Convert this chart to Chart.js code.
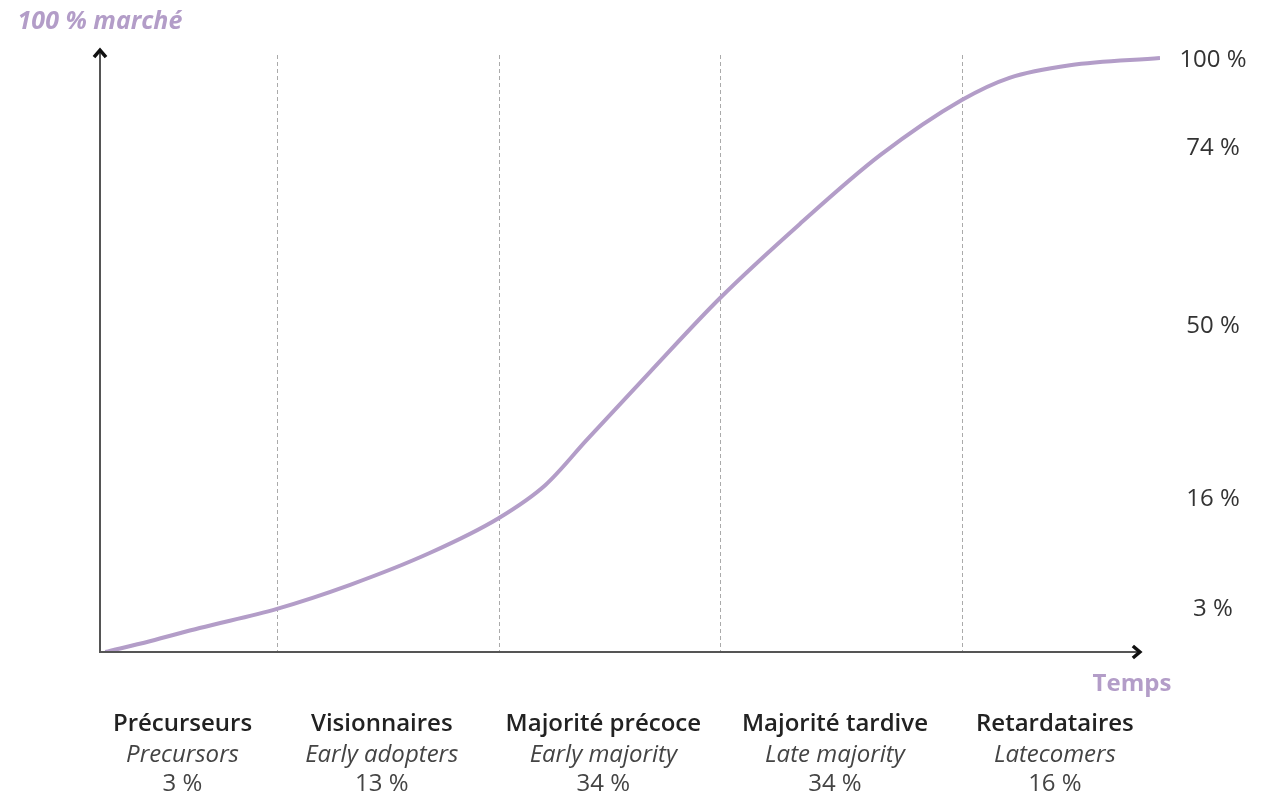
<!DOCTYPE html>
<html>
<head>
<meta charset="utf-8">
<script src="https://cdn.jsdelivr.net/npm/chart.js@4.4.1/dist/chart.umd.min.js"></script>
<style>
  html, body { margin: 0; padding: 0; background: #fff; }
  #chart { display: block; }
</style>
</head>
<body>
<canvas id="chart" width="1265" height="802"></canvas>
<script>
// curve: time (0-100) against market share (0-100)
const curveX = [0.5, 4.7, 9.4, 16.7, 23.6, 31.1, 37.6, 42.0, 45.9, 51.9, 58.5, 66.0, 73.6, 81.3, 85.8, 91.5, 100];
const curveY = [0, 1.8, 4.0, 7.2, 11.2, 16.5, 22.3, 27.8, 35.3, 46.7, 59.0, 71.3, 82.8, 92.0, 95.7, 97.8, 99.0];

// segment boundaries on the time axis
const stops = [0, 16.7, 37.6, 58.5, 81.3, 100];
const arrowEnd = 98.1;

const groupFr = ["Précurseurs", "Visionnaires", "Majorité précoce", "Majorité tardive", "Retardataires"];
const groupEn = ["Precursors", "Early adopters", "Early majority", "Late majority", "Latecomers"];
const groupShare = ["3 %", "13 %", "34 %", "34 %", "16 %"];

const sideValues = [98.7, 84, 54.3, 25.5, 7.2];
const sideLabels = ["100 %", "74 %", "50 %", "16 %", "3 %"];

const lilac = "#b39dc8";
const font = "'Open Sans', 'Noto Sans', sans-serif";

const decor = {
    id: "decor",
    beforeDatasetsDraw(chart) {
        const ctx = chart.ctx;
        const x = chart.scales.x, y = chart.scales.y;
        const y0 = y.getPixelForValue(0);
        ctx.save();
        // dashed separators
        ctx.strokeStyle = "#aaa";
        ctx.lineWidth = 1;
        ctx.setLineDash([4, 3]);
        for (let i = 1; i < stops.length - 1; i++) {
            const px = Math.round(x.getPixelForValue(stops[i])) + 0.5;
            ctx.beginPath();
            ctx.moveTo(px, y.getPixelForValue(99.5));
            ctx.lineTo(px, y0);
            ctx.stroke();
        }
        ctx.restore();
    },
    afterDatasetsDraw(chart) {
        const ctx = chart.ctx;
        const x = chart.scales.x, y = chart.scales.y;
        const x0 = x.getPixelForValue(0), y0 = y.getPixelForValue(0);
        const xEnd = x.getPixelForValue(arrowEnd);
        const yTop = y.getPixelForValue(100.3);
        ctx.save();
        // axes
        ctx.strokeStyle = "#555";
        ctx.lineWidth = 2;
        ctx.beginPath();
        ctx.moveTo(x0, yTop + 2);
        ctx.lineTo(x0, y0);
        ctx.lineTo(xEnd - 2, y0);
        ctx.stroke();
        // arrow heads
        ctx.strokeStyle = "#111";
        ctx.lineWidth = 3.5;
        ctx.beginPath();
        ctx.moveTo(x0 - 6, yTop + 7);
        ctx.lineTo(x0, yTop);
        ctx.lineTo(x0 + 6, yTop + 7);
        ctx.stroke();
        ctx.beginPath();
        ctx.moveTo(xEnd - 7, y0 - 6);
        ctx.lineTo(xEnd, y0);
        ctx.lineTo(xEnd - 7, y0 + 6);
        ctx.stroke();

        // axis titles
        ctx.fillStyle = lilac;
        ctx.textAlign = "center";
        ctx.textBaseline = "middle";
        ctx.font = "italic bold 25px " + font;
        ctx.fillText("100 % marché", x0, 22);
        ctx.font = "bold 24px " + font;
        ctx.fillText("Temps", 1132, y0 + 32);

        // right side labels
        ctx.fillStyle = "#333";
        ctx.font = "24px " + font;
        for (let i = 0; i < sideLabels.length; i++) {
            ctx.fillText(sideLabels[i], 1213, y.getPixelForValue(sideValues[i]));
        }

        // group labels under the axis
        for (let i = 0; i < groupFr.length; i++) {
            const cx = (x.getPixelForValue(stops[i]) + x.getPixelForValue(stops[i + 1])) / 2 - 6;
            ctx.fillStyle = "#222";
            ctx.font = "600 24px " + font;
            ctx.fillText(groupFr[i], cx, y0 + 72);
            ctx.fillStyle = "#444";
            ctx.font = "italic 24px " + font;
            ctx.fillText(groupEn[i], cx, y0 + 103);
            ctx.font = "24px " + font;
            ctx.fillText(groupShare[i], cx, y0 + 132);
        }
        ctx.restore();
    }
};

new Chart(document.getElementById("chart"), {
    type: "line",
    data: {
        datasets: [{
            data: curveX.map((v, i) => ({ x: v, y: curveY[i] })),
            borderColor: lilac,
            borderWidth: 4,
            pointRadius: 0,
            cubicInterpolationMode: "monotone",
            fill: false,
        }],
    },
    options: {
        responsive: false,
        animation: false,
        layout: { padding: { left: 100, right: 105, top: 46, bottom: 150 } },
        scales: {
            x: { type: "linear", min: 0, max: 100, display: false },
            y: { min: 0, max: 101, display: false },
        },
        plugins: {
            legend: { display: false },
            tooltip: { enabled: false },
        },
    },
    plugins: [decor],
});
</script>
</body>
</html>
